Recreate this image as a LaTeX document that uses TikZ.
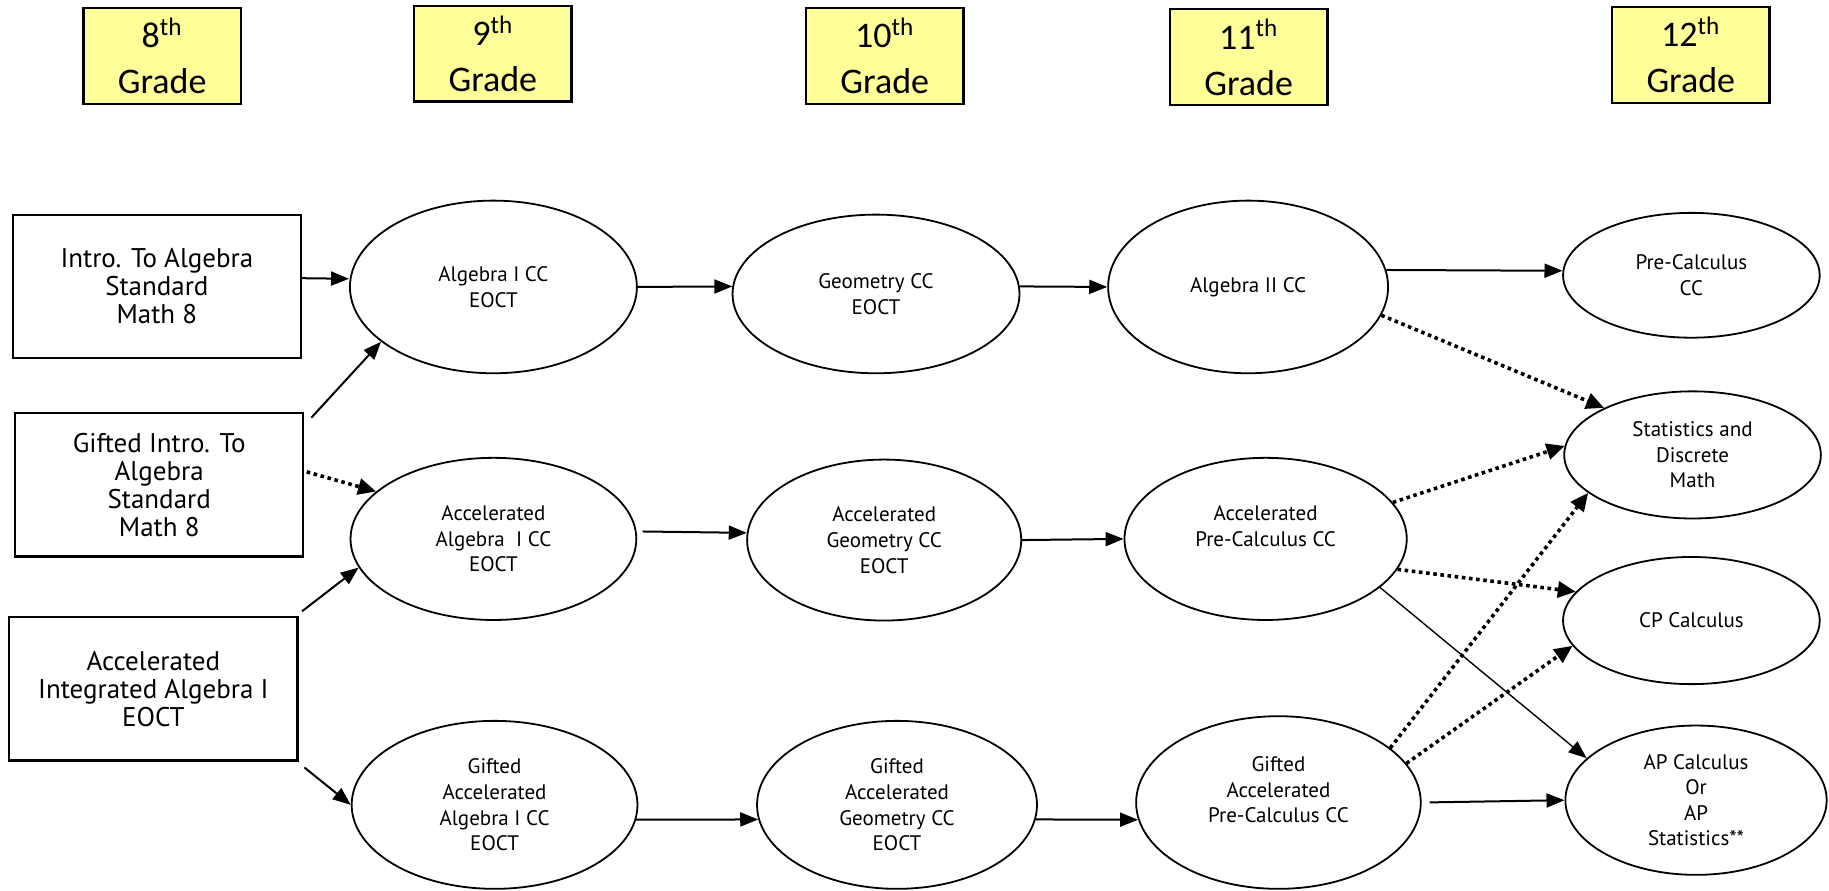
\documentclass[tikz,border=0pt]{standalone}
\usepackage{fontspec}
\setmainfont{PT Sans}
\newfontfamily\gradefont{Carlito}
\usetikzlibrary{arrows.meta,shapes.geometric}

\newlength{\du}
\setlength{\du}{0.5833pt}
\definecolor{gradeyellow}{rgb}{1.000000, 1.000000, 0.600000}

\begin{document}
\begin{tikzpicture}[x=\du,y=-\du,
  gradebox/.style={draw,line width=1.1pt,fill=gradeyellow,minimum width=135\du,minimum height=82\du,
    inner sep=0pt,align=center,font=\gradefont\fontsize{18}{23}\selectfont},
  startbox/.style={draw,line width=1.1pt,minimum width=247\du,minimum height=123\du,
    inner sep=0pt,align=center,font=\fontsize{13.5}{14}\selectfont},
  course/.style={draw,ellipse,line width=0.9pt,inner sep=0pt,align=center,
    font=\fontsize{10.5}{12.8}\selectfont},
  solidarrow/.style={-{Triangle[length=9pt,width=7pt]},line width=1pt},
  dotarrow/.style={-{Triangle[length=9pt,width=8pt]},line width=1.8pt,dash pattern=on 1.8pt off 1.8pt}
]
\useasboundingbox (0,0) rectangle (1568,763);

% grade headers
\node[gradebox] (g8)  at (139,48)    {8\textsuperscript{th}\\Grade};
\node[gradebox] (g9)  at (422.5,46)  {9\textsuperscript{th}\\Grade};
\node[gradebox] (g10) at (758.5,48)  {10\textsuperscript{th}\\Grade};
\node[gradebox] (g11) at (1070.5,49) {11\textsuperscript{th}\\Grade};
\node[gradebox] (g12) at (1449.5,47) {12\textsuperscript{th}\\Grade};

% 8th grade courses
\node[startbox] (intro)   at (134.5,245.5) {Intro. To Algebra\\Standard\\Math 8};
\node[startbox] (gifted)  at (136.5,415.5) {Gifted Intro. To\\Algebra\\Standard\\Math 8};
\node[startbox] (integr)  at (131.5,590.5) {Accelerated\\Integrated Algebra I\\EOCT};

% 9th grade
\node[course,minimum width=246\du,minimum height=148\du] (alg)    at (423,246) {Algebra I CC\\EOCT};
\node[course,minimum width=245\du,minimum height=139\du] (accalg) at (423,462) {Accelerated\\Algebra~ I CC\\EOCT};
\node[course,minimum width=245\du,minimum height=144\du] (gifalg) at (424,690) {Gifted\\Accelerated\\Algebra I CC\\EOCT};

% 10th grade
\node[course,minimum width=246\du,minimum height=136\du] (geo)    at (751,252) {Geometry CC\\EOCT};
\node[course,minimum width=235\du,minimum height=138\du] (accgeo) at (758,463) {Accelerated\\Geometry CC\\EOCT};
\node[course,minimum width=240\du,minimum height=144\du] (gifgeo) at (769,690) {Gifted\\Accelerated\\Geometry CC\\EOCT};

% 11th grade
\node[course,minimum width=240\du,minimum height=148\du] (algtwo) at (1070,246) {Algebra II CC};
\node[course,minimum width=242\du,minimum height=139\du] (accpre) at (1085,462) {Accelerated\\Pre-Calculus CC\\\mbox{}};
\node[course,minimum width=244\du,minimum height=148\du] (gifpre) at (1096,688) {Gifted\\Accelerated\\Pre-Calculus CC\\\mbox{}};

% 12th grade
\node[course,minimum width=220\du,minimum height=107\du] (precalc) at (1450,236) {Pre-Calculus\\CC};
\node[course,minimum width=220\du,minimum height=109\du] (stats)   at (1451,390) {Statistics and\\Discrete\\Math};
\node[course,minimum width=220\du,minimum height=109\du] (cpcalc)  at (1450,532) {CP Calculus};
\node[course,minimum width=224\du,minimum height=128\du] (apcalc)  at (1454,686) {AP Calculus\\Or\\AP\\Statistics**};

% solid arrows
\draw[solidarrow] ([yshift=7\du]intro.east) -- ([yshift=7\du]alg.west);
\draw[solidarrow] ([shift={(6,5)}]gifted.north east) -- (alg.206);
\draw[solidarrow] ([shift={(3,-4)}]integr.north east) -- (accalg.192);
\draw[solidarrow] ([shift={(5,5)}]integr.south east) -- (gifalg.west);
\draw[solidarrow] (alg.east) -- (geo.177);
\draw[solidarrow] (geo.3) -- (algtwo.west);
\draw[solidarrow] (algtwo.7) -- (precalc.178);
\draw[solidarrow,shorten <=3pt] (accalg.3) -- (accgeo.177);
\draw[solidarrow] (accgeo.east) -- (accpre.west);
\draw[solidarrow,line width=0.7pt] (accpre.-23) -- (apcalc.159);
\draw[solidarrow,shorten <=4pt] (gifpre.east) -- (apcalc.west);
\draw[solidarrow] (gifalg.-6) -- (gifgeo.186);
\draw[solidarrow] (gifgeo.-6) -- (gifpre.187);

% dotted arrows
\draw[dotarrow] ([shift={(2,-11)}]gifted.east) -- (accalg.158);
\draw[dotarrow] (algtwo.-12) -- (stats.152);
\draw[dotarrow] (accpre.16) -- (stats.176);
\draw[dotarrow] (accpre.-13) -- (cpcalc.166);
\draw[dotarrow] (gifpre.26) -- (stats.200);
\draw[dotarrow] (gifpre.17) -- (cpcalc.192);
\end{tikzpicture}
\end{document}
